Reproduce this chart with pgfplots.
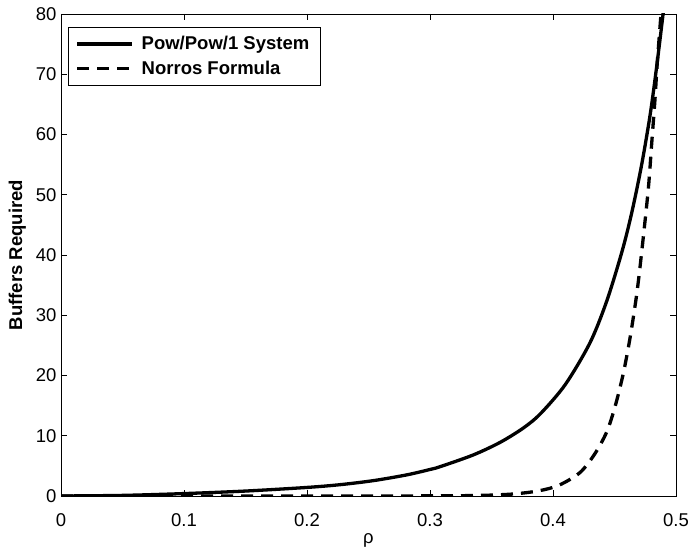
\documentclass[border=0pt]{standalone}
\usepackage{fontspec}
\setmainfont{Liberation Sans}
\usepackage{pgfplots}
\pgfplotsset{compat=1.18}
\begin{document}
\begin{tikzpicture}[font=\fontsize{18.5bp}{22bp}\selectfont]
\begin{axis}[
  scale only axis,
  width=615bp, height=482bp,
  xmin=0, xmax=0.5, ymin=0, ymax=80,
  xtick={0,0.1,0.2,0.3,0.4,0.5},
  xticklabels={0,0.1,0.2,0.3,0.4,0.5},
  ytick={0,10,20,30,40,50,60,70,80},
  tick align=inside,
  major tick length=6bp,
  tick style={black, line width=0.6bp},
  axis line style={black, line width=0.9bp},
  /pgf/number format/assume math mode=true,
  ticklabel style={font=\fontsize{18.5bp}{22bp}\selectfont},
  xticklabel style={yshift=-14bp},
  yticklabel style={xshift=-1bp},
  xlabel={ρ},
  ylabel={\textbf{Buffers Required}},
  xlabel style={font=\fontsize{18.5bp}{22bp}\selectfont, yshift=0bp},
  ylabel style={font=\fontsize{18.5bp}{22bp}\selectfont, yshift=3bp},
  legend style={at={(0.0114,0.973)}, anchor=north west, draw=black, line width=0.8bp,
    font=\fontsize{18.5bp}{22bp}\selectfont\bfseries, cells={anchor=west},
    nodes={inner xsep=4bp, inner ysep=3bp}, inner xsep=7bp, inner ysep=6bp, row sep=4bp},
  legend image code/.code={\draw[#1] (4bp,0bp) -- (59bp,0bp); \path (63bp,0bp);},
  clip=true,
]
\addplot[black, line width=3.3bp, smooth] coordinates {
(0,0) (0.05,0.1) (0.1,0.4) (0.15,0.82) (0.2,1.42) (0.227,1.88) (0.254,2.55)
(0.281,3.5) (0.3,4.4) (0.308,4.85) (0.335,6.8) (0.357,8.9) (0.376,11.3)
(0.39,13.7) (0.41,18.5) (0.43,25.4) (0.4436,32.3) (0.456,40.5) (0.464,47.0)
(0.472,54.9) (0.479,63.3) (0.4843,71.3) (0.4892,79.5) (0.4905,82)
};
\addlegendentry{Pow/Pow/1 System}
\addplot[black, line width=3.3bp, dash pattern=on 12bp off 8bp, smooth] coordinates {
(0,0) (0.1,0) (0.2,0) (0.25,0.005) (0.3,0.02) (0.33,0.06) (0.35,0.15) (0.37,0.37)
(0.389,0.88) (0.405,1.8) (0.422,3.9) (0.434,7.0) (0.4436,10.6) (0.4504,14.8)
(0.457,20.2) (0.4626,26.2) (0.468,33.4) (0.472,40.3) (0.4775,51) (0.4802,58.4)
(0.4829,65.8) (0.4848,72) (0.4876,79.5) (0.489,84)
};
\addlegendentry{Norros Formula}
\end{axis}
\pgfresetboundingbox
\useasboundingbox ([shift={(-61bp,-54bp)}]current axis.south west) rectangle ([shift={(14bp,14bp)}]current axis.north east);
\end{tikzpicture}
\end{document}
